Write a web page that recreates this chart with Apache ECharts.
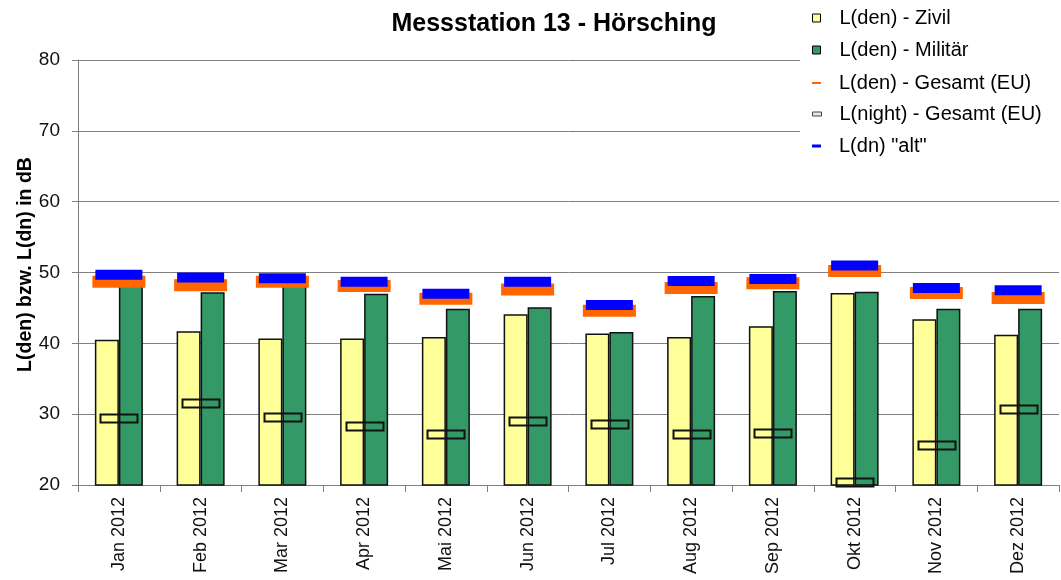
<!DOCTYPE html>
<html>
<head>
<meta charset="utf-8">
<script src="https://cdn.jsdelivr.net/npm/echarts@6/dist/echarts.min.js"></script>
<style>
html,body{margin:0;padding:0;background:#fff;}
#c{width:1061px;height:580px;}
</style>
</head>
<body>
<div id="c"></div>
<script>
const categories = ['Jan 2012','Feb 2012','Mar 2012','Apr 2012','Mai 2012','Jun 2012','Jul 2012','Aug 2012','Sep 2012','Okt 2012','Nov 2012','Dez 2012'];
const zivil    = [40.5, 41.7, 40.7, 40.7, 40.9, 44.1, 41.4, 40.9, 42.4, 47.1, 43.4, 41.2];
const militaer = [48.4, 47.2, 48.4, 47.0, 44.9, 45.1, 41.6, 46.7, 47.4, 47.3, 44.9, 44.9];
const gesamt   = [48.7, 48.2, 48.7, 48.1, 46.3, 47.6, 44.6, 47.8, 48.5, 50.2, 47.1, 46.4];
const night    = [29.4, 31.6, 29.6, 28.4, 27.2, 29.1, 28.6, 27.2, 27.3, 20.4, 25.6, 30.7];
const alt      = [49.7, 49.3, 49.2, 48.7, 47.0, 48.7, 45.4, 48.8, 49.1, 51.0, 47.8, 47.5];
const yTicks   = [20, 30, 40, 50, 60, 70, 80];

const names = ['L(den) - Zivil', 'L(den) - Militär', 'L(den) - Gesamt (EU)', 'L(night) - Gesamt (EU)', 'L(dn) "alt"'];
const FONT = 'Liberation Sans, Arial, sans-serif';

const chart = echarts.init(document.getElementById('c'), null, {renderer: 'canvas'});

function leg(name, top, w, h, style) {
  return {
    data: [{name: name, icon: 'rect', itemStyle: style}],
    left: 812, top: top, orient: 'vertical', padding: 0,
    itemWidth: w, itemHeight: h, z: 60,
    selectedMode: false,
    textStyle: {fontFamily: FONT, fontSize: 20, color: '#000', padding: [0, 0, 0, 22 - w]}
  };
}

chart.setOption({
  animation: false,
  backgroundColor: '#fff',
  title: {
    text: 'Messstation 13 - Hörsching',
    left: 549, top: 7, textAlign: 'center',
    textStyle: {fontFamily: FONT, fontSize: 25, fontWeight: 'bold', color: '#000'}
  },
  graphic: [{
    type: 'rect', z: 50, left: 800, top: 0,
    shape: {width: 261, height: 165},
    style: {fill: '#fff'}
  }],
  legend: [
    leg(names[0], 8, 8, 8, {color: '#FFFF99', borderColor: '#000', borderWidth: 1}),
    leg(names[1], 40, 8, 8, {color: '#339966', borderColor: '#000', borderWidth: 1}),
    leg(names[2], 73, 9, 2, {color: '#FF6600', borderWidth: 0}),
    leg(names[3], 104, 9, 4, {color: '#e8e8e8', borderColor: '#444', borderWidth: 1}),
    leg(names[4], 136, 9, 3, {color: '#0000FF', borderWidth: 0})
  ],
  grid: {left: 78, right: 2, top: 60, bottom: 95, containLabel: false},
  xAxis: {
    type: 'category',
    data: categories,
    axisLine: {show: true, lineStyle: {color: '#808080', width: 1}},
    axisTick: {show: true, length: 7, alignWithLabel: false, lineStyle: {color: '#808080'}},
    axisLabel: {rotate: 90, margin: 12, fontFamily: FONT, fontSize: 18, color: '#111'},
    splitLine: {show: false}
  },
  yAxis: {
    type: 'value',
    min: 20, max: 80, interval: 10,
    name: 'L(den) bzw. L(dn) in dB',
    nameLocation: 'middle', nameGap: 42, nameRotate: 90,
    nameMoveOverlap: false,
    nameTextStyle: {fontFamily: FONT, fontSize: 19.5, fontWeight: 'bold', color: '#000', padding: [0, 0, 0, 16]},
    axisLine: {show: true, lineStyle: {color: '#808080', width: 1}},
    axisTick: {show: true, length: 6, lineStyle: {color: '#808080'}},
    axisLabel: {margin: 18, fontFamily: FONT, fontSize: 19, color: '#111',
      formatter: v => yTicks.indexOf(v) >= 0 ? String(v) : ''},
    splitLine: {show: true, lineStyle: {color: '#808080', width: 1}}
  },
  series: [
    {
      name: names[0], type: 'bar', data: zivil, barWidth: 24, barGap: '0%',
      itemStyle: {color: '#FFFF99', borderColor: '#111', borderWidth: 1.5}, z: 2
    },
    {
      name: names[1], type: 'bar', data: militaer, barWidth: 24, barGap: '0%',
      itemStyle: {color: '#339966', borderColor: '#111', borderWidth: 1.5}, z: 2
    },
    {
      name: names[2], type: 'scatter', data: gesamt, symbol: 'rect', symbolSize: [53, 12],
      itemStyle: {color: '#FF6600', opacity: 1}, z: 5
    },
    {
      name: names[3], type: 'custom', data: night, z: 6,
      itemStyle: {color: '#e8e8e8'},
      renderItem: function (params, api) {
        const p = api.coord([api.value(0), api.value(1)]);
        const w = 37, h = 8;
        return {
          type: 'rect',
          shape: {x: Math.round(p[0] - w / 2) + 0.5, y: Math.round(p[1] - h / 2) + 0.5, width: w, height: h},
          style: {fill: 'none', stroke: '#111', lineWidth: 2}
        };
      },
      encode: {x: 0, y: 1}
    },
    {
      name: names[4], type: 'scatter', data: alt, symbol: 'rect', symbolSize: [47, 10],
      itemStyle: {color: '#0000FF', opacity: 1}, z: 7
    }
  ]
});
</script>
</body>
</html>
